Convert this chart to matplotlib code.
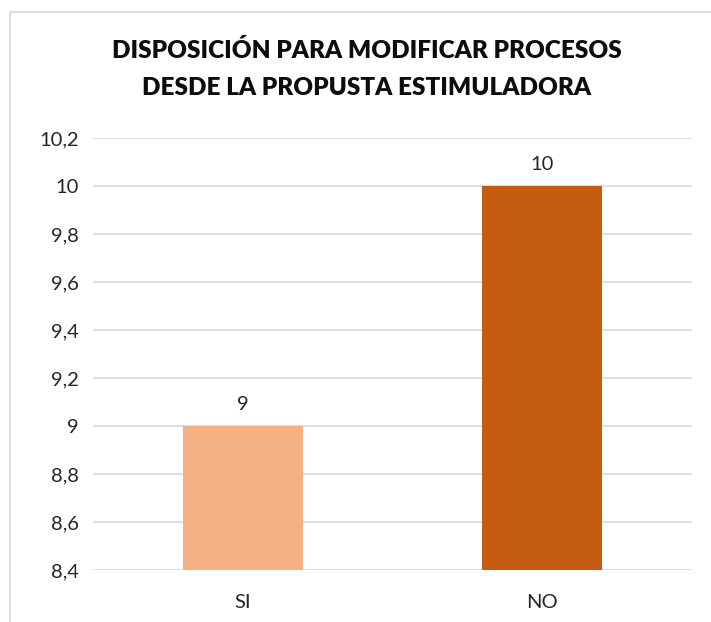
import matplotlib.pyplot as plt
from matplotlib.patches import Rectangle
from matplotlib.ticker import FuncFormatter, MultipleLocator

categories = ["SI", "NO"]
values = [9, 10]
bar_colors = ["#F4B183", "#C55A11"]
title = "DISPOSICIÓN PARA MODIFICAR PROCESOS\nDESDE LA PROPUSTA ESTIMULADORA"

plt.rcParams['font.family'] = ['Lato', 'DejaVu Sans']

W, H = 711, 622
fig = plt.figure(figsize=(W / 100, H / 100), dpi=100)
ax = fig.add_axes([93 / W, 1 - 570 / H, (692 - 93) / W, (570 - 138) / H])

x = list(range(len(categories)))
ax.bar(x, values, width=0.4, color=bar_colors, zorder=3)
for xi, v in zip(x, values):
    ax.annotate(str(v), (xi, v), xytext=(0, 9), textcoords="offset points",
                ha="center", va="bottom", fontsize=14.5, color="#262626")

ax.set_xlim(-0.5, len(categories) - 0.5)
ax.set_ylim(8.4, 10.2)
ax.yaxis.set_major_locator(MultipleLocator(0.2))
ax.yaxis.set_major_formatter(FuncFormatter(lambda v, p: ("%g" % round(v, 1)).replace(".", ",")))
ax.set_xticks(x)
ax.set_xticklabels(categories)
ax.tick_params(axis="both", length=0, labelsize=14.5, colors="#262626")
ax.tick_params(axis="x", pad=17)
ax.tick_params(axis="y", pad=10)
ax.grid(axis="y", color="#d9d9d9", linewidth=1.2, zorder=0)
for s in ax.spines.values():
    s.set_visible(False)

fig.text(367 / W, 1 - 69 / H, title, ha="center", va="center",
         fontsize=17.5, fontweight="heavy", color="#0d0d0d", linespacing=1.8)

fig.patches.append(Rectangle((10 / W, -0.1), 1.2, 1 - 12 / H + 0.1, transform=fig.transFigure,
                             fill=False, edgecolor="#d9d9d9", linewidth=1.2))

fig.savefig("out.png", dpi=100)
